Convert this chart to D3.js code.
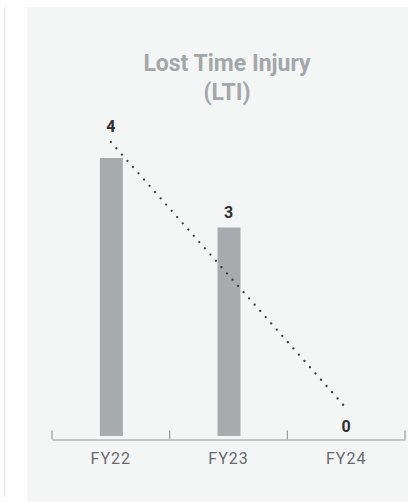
<!DOCTYPE html>
<html>
<head>
<meta charset="utf-8">
<script src="https://cdn.jsdelivr.net/npm/d3@7"></script>
<style>
  html, body { margin: 0; padding: 0; background: #ffffff; }
  svg { display: block; }
</style>
</head>
<body>
<script>
// Lost Time Injury counts per financial year
const categories = ["FY22", "FY23", "FY24"];
const ltiValues = [4, 3, 0];
// Dotted trend line: values at the first and last year
const trendValues = [4.23, 0.40];
const titleLines = ["Lost Time Injury", "(LTI)"];

const W = 408, H = 502;
const svg = d3.select("body").append("svg")
  .attr("width", W).attr("height", H);

// side rule and panel background
svg.append("rect").attr("x", 4).attr("y", 7).attr("width", 1.6).attr("height", 490)
  .attr("fill", "#ebebeb");
svg.append("rect").attr("x", 27).attr("y", 7).attr("width", W - 27).attr("height", H - 7)
  .attr("fill", "#f4f5f5");

// title
svg.append("text")
  .attr("x", 227).attr("y", 71)
  .attr("text-anchor", "middle")
  .attr("font-family", "Roboto, 'Noto Sans', sans-serif")
  .attr("font-weight", 700)
  .attr("font-size", 23)
  .attr("fill", "#a3a7aa")
  .selectAll("tspan").data(titleLines).join("tspan")
  .attr("x", 227).attr("dy", (d, i) => i === 0 ? 0 : 29)
  .text(d => d);

const x = d3.scaleBand().domain(categories).range([52, 405]).padding(0);
const y = d3.scaleLinear().domain([0, 4]).range([436, 158]);
const axisY = 439.5;
const barW = 23;

// bars
svg.append("g").selectAll("rect").data(ltiValues).join("rect")
  .attr("x", (d, i) => x(categories[i]) + x.bandwidth() / 2 - barW / 2 + 0.5)
  .attr("y", d => y(d))
  .attr("width", barW)
  .attr("height", d => y(0) - y(d))
  .attr("fill", "#a7abae");

// axis: baseline with band-edge ticks and year labels
const axis = svg.append("g").attr("transform", `translate(0,${axisY})`);
axis.call(d3.axisBottom(x).tickSize(0).tickPadding(13))
  .call(g => g.select(".domain").attr("stroke", "#9a9a9a").attr("stroke-width", 1.2))
  .call(g => g.selectAll(".tick text")
    .attr("font-family", "Roboto, 'Noto Sans', sans-serif")
    .attr("font-size", 16)
    .attr("letter-spacing", 1)
    .attr("fill", "#666a6d"));
const edges = categories.map(c => x(c)).concat([x.range()[1]]);
axis.selectAll("line.edge").data(edges).join("line")
  .attr("class", "edge")
  .attr("x1", d => d).attr("x2", d => d)
  .attr("y1", 0).attr("y2", -9)
  .attr("stroke", "#9a9a9a").attr("stroke-width", 1.2);

// dotted trend line
const cx = c => x(c) + x.bandwidth() / 2;
const trendPts = [[cx(categories[0]), y(trendValues[0])],
                  [cx(categories[categories.length - 1]), y(trendValues[1])]];
svg.append("path")
  .attr("d", d3.line()(trendPts))
  .attr("fill", "none")
  .attr("stroke", "#3a3a3a")
  .attr("stroke-width", 2.3)
  .attr("stroke-linecap", "round")
  .attr("stroke-dasharray", "0 8.35");

// value labels: above the bar, or above the trend start where it rises over the bar
svg.append("g").selectAll("text").data(ltiValues).join("text")
  .attr("x", (d, i) => cx(categories[i]))
  .attr("y", (d, i) => {
    let top = y(d);
    if (i === 0 && y(trendValues[0]) < top) top = y(trendValues[0]);
    return top - (d === 0 ? 4 : 10);
  })
  .attr("text-anchor", "middle")
  .attr("font-family", "Roboto, 'Noto Sans', sans-serif")
  .attr("font-weight", 700)
  .attr("font-size", 16)
  .attr("fill", "#2f2f2f")
  .text(d => d);
</script>
</body>
</html>
